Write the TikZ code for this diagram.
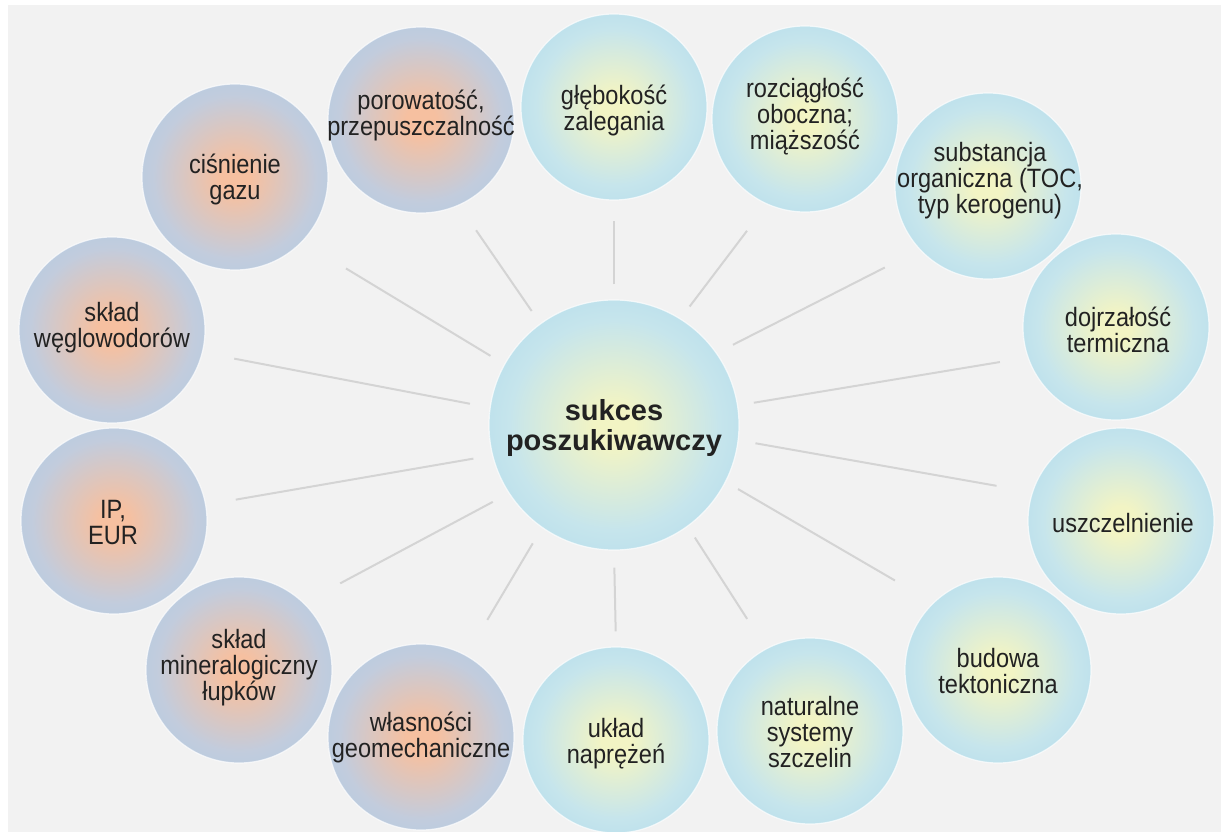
\documentclass[tikz,border=0pt]{standalone}
\usepackage{fontspec}
\setmainfont{Liberation Sans}[FakeStretch=0.89]
\newfontfamily\boldsans{Liberation Sans}
\usetikzlibrary{calc}
\definecolor{bgc}{HTML}{F2F2F2}
\definecolor{linec}{HTML}{D4D4D4}
\definecolor{txtc}{HTML}{222222}
\definecolor{bcen}{HTML}{F2F4C4}
\definecolor{bmid}{HTML}{C6E5EC}
\definecolor{bedge}{HTML}{A6D5EE}
\definecolor{pcen}{HTML}{F6C0A0}
\definecolor{pmid}{HTML}{C2CCDD}
\definecolor{pedge}{HTML}{A8CAE6}
\pgfdeclareradialshading{bluebub}{\pgfpoint{0bp}{0bp}}{color(0bp)=(bcen); color(4bp)=(bcen); color(21bp)=(bmid); color(40bp)=(bedge); color(50bp)=(bedge)}
\pgfdeclareradialshading{peachbub}{\pgfpoint{0bp}{0bp}}{color(0bp)=(pcen); color(4bp)=(pcen); color(22bp)=(pmid); color(38bp)=(pedge); color(50bp)=(pedge)}
\tikzset{
  bub/.style={circle, minimum size=186pt, inner sep=0pt, draw=white, draw opacity=0.7, line width=1.2pt},
  bluebubble/.style={bub, shade, shading=bluebub},
  peachbubble/.style={bub, shade, shading=peachbub},
  bigbubble/.style={circle, minimum size=250pt, inner sep=0pt, draw=white, draw opacity=0.7, line width=1.2pt, shade, shading=bluebub},
  lbl/.style={align=center, text=txtc, inner sep=0pt, font=\fontsize{26.5}{26}\selectfont},
  biglbl/.style={align=center, text=txtc, inner sep=0pt, font=\boldsans\fontsize{29}{30}\selectfont\bfseries},
  conn/.style={draw=linec, line width=2pt}
}
\begin{document}
\begin{tikzpicture}[x=1pt, y=-1pt]
\useasboundingbox (0,0) rectangle (1221,832);
\fill[white] (0,0) rectangle (1221,832);
\fill[bgc] (8,5) rectangle (1221,832);
\begin{scope}
\clip (0,0) rectangle (1221,832);
% central node
\node[bigbubble] (ctr) at (614,425) {};
\node[biglbl] (ctrt) at (614,428) {sukces\\poszukiwawczy};
% outer nodes
\node[bluebubble] (glb) at (614,107) {};
\node[bluebubble] (roz) at (805,119) {};
\node[bluebubble] (sub) at (988,186) {};
\node[bluebubble] (doj) at (1116,327) {};
\node[bluebubble] (usz) at (1121,521) {};
\node[bluebubble] (bud) at (998,670) {};
\node[bluebubble] (nat) at (810,731) {};
\node[bluebubble] (ukl) at (616,740) {};
\node[peachbubble] (wla) at (421,737) {};
\node[peachbubble] (min) at (239,670) {};
\node[peachbubble] (ip) at (114,521) {};
\node[peachbubble] (weg) at (112,330) {};
\node[peachbubble] (cis) at (235,177) {};
\node[peachbubble] (por) at (421,120) {};
% labels
\node[lbl] (glbt) at (614,110) {głębokość\\zalegania};
\node[lbl] (rozt) at (805,117) {rozciągłość\\oboczna;\\miąższość};
\node[lbl] (subt) at (990,181) {substancja\\organiczna (TOC,\\typ kerogenu)};
\node[lbl] (dojt) at (1118,330) {dojrzałość\\termiczna};
\node[lbl] (uszt) at (1123,523) {uszczelnienie};
\node[lbl] (budt) at (998,671) {budowa\\tektoniczna};
\node[lbl] (natt) at (810,732) {naturalne\\systemy\\szczelin};
\node[lbl] (uklt) at (616,744) {układ\\naprężeń};
\node[lbl] (wlat) at (421,737) {własności\\geomechaniczne};
\node[lbl] (mint) at (239,668) {skład\\mineralogiczny\\łupków};
\node[lbl] (ipt) at (113,523) {IP,\\EUR};
\node[lbl] (wegt) at (112,328) {skład\\węglowodorów};
\node[lbl] (cist) at (235,179) {ciśnienie\\gazu};
\node[lbl] (port) at (421,115) {porowatość,\\przepuszczalność};
% connectors
\draw[conn, shorten <=15pt, shorten >=20pt] (ctr.90) -- (glb.-90);
\draw[conn, shorten <=15pt, shorten >=33pt] (ctr.58.5) -- (roz.-114.9);
\draw[conn, shorten <=18pt, shorten >=39pt] (ctr.35) -- (sub.-137.8);
\draw[conn, shorten <=16pt, shorten >=28pt] (ctr.9.4) -- (doj.-161.3);
\draw[conn, shorten <=17pt, shorten >=36pt] (ctr.-7.3) -- (usz.162.8);
\draw[conn, shorten <=14pt, shorten >=44pt] (ctr.-27.5) -- (bud.134.4);
\draw[conn, shorten <=13pt, shorten >=35pt] (ctr.-54.1) -- (nat.118.4);
\draw[conn, shorten <=17pt, shorten >=15pt] (ctr.-90) -- (ukl.90);
\draw[conn, shorten <=18pt, shorten >=41pt] (ctr.-125) -- (wla.61.5);
\draw[conn, shorten <=18pt, shorten >=41pt] (ctr.-147) -- (min.46.2);
\draw[conn, shorten <=19pt, shorten >=30pt] (ctr.-166) -- (ip.10.8);
\draw[conn, shorten <=20pt, shorten >=32pt] (ctr.172.1) -- (weg.-14.8);
\draw[conn, shorten <=16pt, shorten >=51pt] (ctr.151.6) -- (cis.-44.2);
\draw[conn, shorten <=15pt, shorten >=30pt] (ctr.126) -- (por.-66.6);
\end{scope}
\end{tikzpicture}
\end{document}
